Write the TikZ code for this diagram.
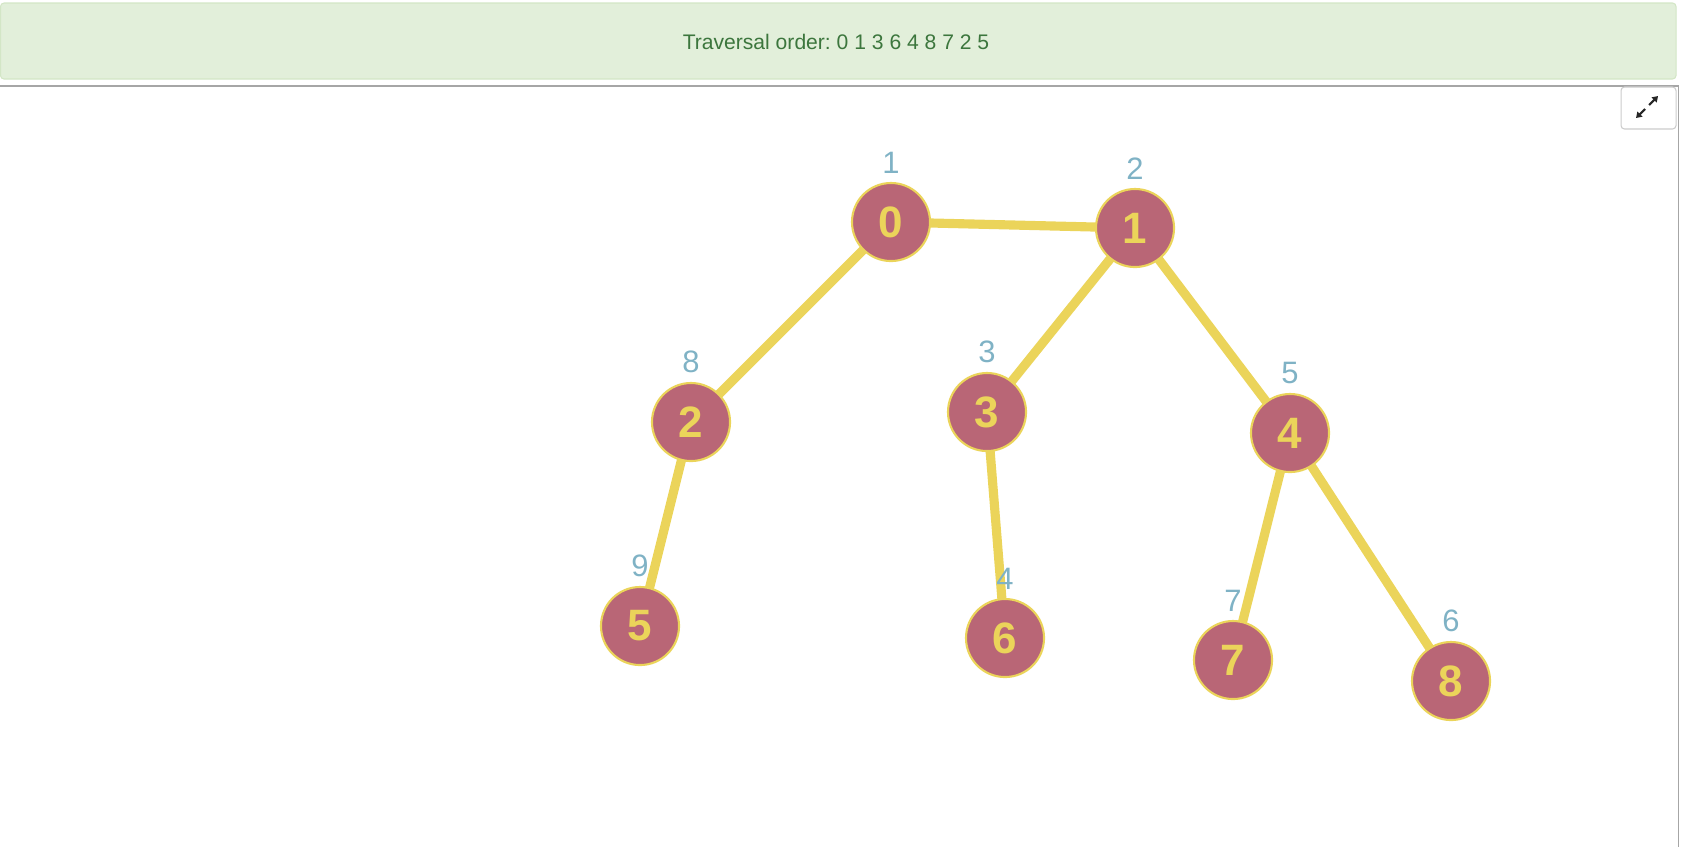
\documentclass[tikz,border=0pt]{standalone}
\usepackage{fontspec}
\setmainfont{Liberation Sans}
\usepackage{xcolor}
\usetikzlibrary{arrows.meta,backgrounds}
\frenchspacing

\definecolor{bannerfill}{HTML}{E2EFDA}
\definecolor{bannerline}{HTML}{D3E6C6}
\definecolor{bannertext}{HTML}{3C763D}
\definecolor{nodefill}{HTML}{B96676}
\definecolor{nodegold}{HTML}{EBD45A}
\definecolor{ordertext}{HTML}{7FB2C5}

\begin{document}
\begin{tikzpicture}[
   x=0.01cm, y=-0.01cm,
   label distance=0.08cm,
   MyNode/.style={circle, fill=nodefill, draw=nodegold, line width=0.6pt,
                  minimum size=0.78cm, inner sep=0pt, text=nodegold,
                  font=\fontsize{12.5}{12.5}\selectfont\bfseries},
   MyLabel/.style={text=ordertext, inner sep=0pt,
                   font=\fontsize{8.8}{9}\selectfont},
   MyEdge/.style={draw=nodegold, line width=2.6pt},
  ]
\useasboundingbox (0,0) rectangle (1692,847);
% banner
\draw[bannerline, fill=bannerfill, rounded corners=1pt, line width=0.3pt]
  (0.5,3) rectangle (1676,79);
\node[text=bannertext, font=\fontsize{6}{7}\selectfont] (order) at (836,42)
  {Traversal order: 0 1 3 6 4 8 7 2 5};
% panel frame
\draw[gray!70, line width=0.3pt] (0,86) -- (1678,86) -- (1678,847);
\draw[gray!40, fill=white, rounded corners=1pt, line width=0.3pt]
  (1621,87) rectangle (1676,129);
\draw[-{Triangle[length=1.6pt,width=2pt]}, line width=0.6pt, black!85]
  (1649,105) -- (1658,96);
\draw[-{Triangle[length=1.6pt,width=2pt]}, line width=0.6pt, black!85]
  (1645,109) -- (1636,118);
% vertices
\node [MyNode, label={[MyLabel]above:1}] (v0) at (891,222)  {0};
\node [MyNode, label={[MyLabel]above:2}] (v1) at (1135,228) {1};
\node [MyNode, label={[MyLabel]above:8}] (v2) at (691,422)  {2};
\node [MyNode, label={[MyLabel]above:3}] (v3) at (987,412)  {3};
\node [MyNode, label={[MyLabel]above:5}] (v4) at (1290,433) {4};
\node [MyNode, label={[MyLabel]above:9}] (v5) at (640,626)  {5};
\node [MyNode, label={[MyLabel]above:4}] (v6) at (1005,638) {6};
\node [MyNode, label={[MyLabel]above:7}] (v7) at (1233,660) {7};
\node [MyNode, label={[MyLabel]above:6}] (v8) at (1451,681) {8};
\begin{scope}[on background layer]
  \draw[MyEdge] (v0.center) -- (v1.center);
  \draw[MyEdge] (v0.center) -- (v2.center);
  \draw[MyEdge] (v1.center) -- (v3.center);
  \draw[MyEdge] (v1.center) -- (v4.center);
  \draw[MyEdge] (v2.center) -- (v5.center);
  \draw[MyEdge] (v3.center) -- (v6.center);
  \draw[MyEdge] (v4.center) -- (v7.center);
  \draw[MyEdge] (v4.center) -- (v8.center);
\end{scope}
\end{tikzpicture}
\end{document}
